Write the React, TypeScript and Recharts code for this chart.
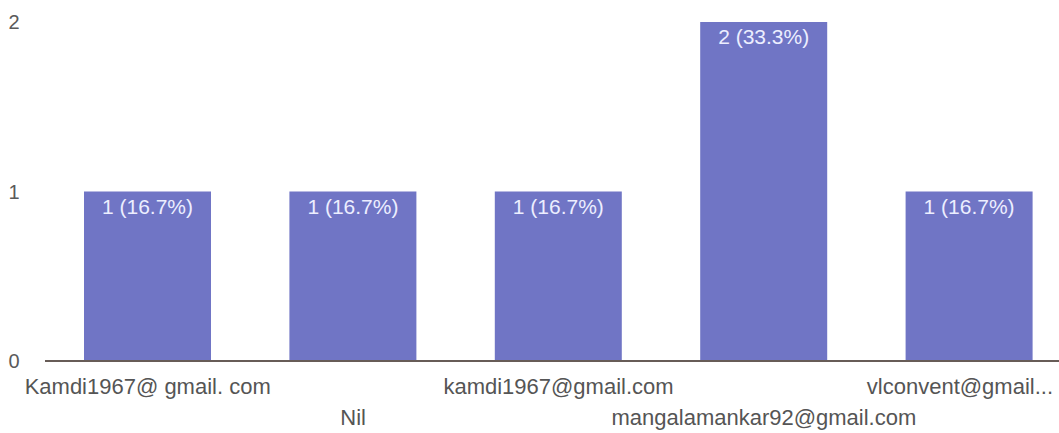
import { BarChart, Bar, XAxis, YAxis, LabelList } from 'recharts';

const categories = [
    'Kamdi1967@ gmail. com',
    'Nil',
    'kamdi1967@gmail.com',
    'mangalamankar92@gmail.com',
    'vlconvent@gmail...',
];
const counts = [1, 1, 1, 2, 1];
const yTicks = [0, 1, 2];

const total = counts.reduce((a, b) => a + b, 0);
const data = categories.map((name, i) => ({ name, count: counts[i] }));

const FONT = '"Liberation Sans", Arial, sans-serif';
const VISIBLE_RIGHT = 1053;

function XTick(props: any) {
    const { x, y, payload, index } = props;
    const dy = index % 2 === 1 ? 64 : 33;
    // rough width guess so the last label stays inside the frame
    const half = (String(payload.value).length * 22 * 0.5) / 2;
    const overflow = x + half > VISIBLE_RIGHT;
    return (
        <text
            x={overflow ? VISIBLE_RIGHT : x}
            y={y + dy}
            textAnchor={overflow ? 'end' : 'middle'}
            fontSize={22}
            fill="#555"
            fontFamily={FONT}
        >
            {payload.value}
        </text>
    );
}

function YTick(props: any) {
    const { y, payload } = props;
    return (
        <text x={14} y={y} dy="0.36em" textAnchor="middle" fontSize={20} fill="#5a5a5a" fontFamily={FONT}>
            {payload.value}
        </text>
    );
}

function BarLabel(props: any) {
    const { x, y, width, value } = props;
    const pct = ((value / total) * 100).toFixed(1);
    return (
        <text x={x + width / 2} y={y + 22} textAnchor="middle" fontSize={21} fill="#eceeff" fontFamily={FONT}>
            {`${value} (${pct}%)`}
        </text>
    );
}

export default function App() {
    return (
        <div style={{ position: 'absolute', left: 0, top: 0, width: 1059, height: 433, overflow: 'hidden', background: '#fff' }}>
            <BarChart
                width={1080}
                height={433}
                data={data}
                margin={{ top: 22, right: 8, left: 0, bottom: 12 }}
                barSize={127}
            >
                <YAxis
                    width={45}
                    domain={[0, 2]}
                    ticks={yTicks}
                    axisLine={false}
                    tickLine={false}
                    tick={<YTick />}
                />
                <XAxis
                    dataKey="name"
                    height={60}
                    interval={0}
                    tickSize={0}
                    tickMargin={0}
                    tickLine={false}
                    axisLine={{ stroke: '#675c57', strokeWidth: 2 }}
                    tick={<XTick />}
                />
                <Bar dataKey="count" fill="#7075c5" isAnimationActive={false}>
                    <LabelList dataKey="count" content={<BarLabel />} />
                </Bar>
            </BarChart>
        </div>
    );
}
